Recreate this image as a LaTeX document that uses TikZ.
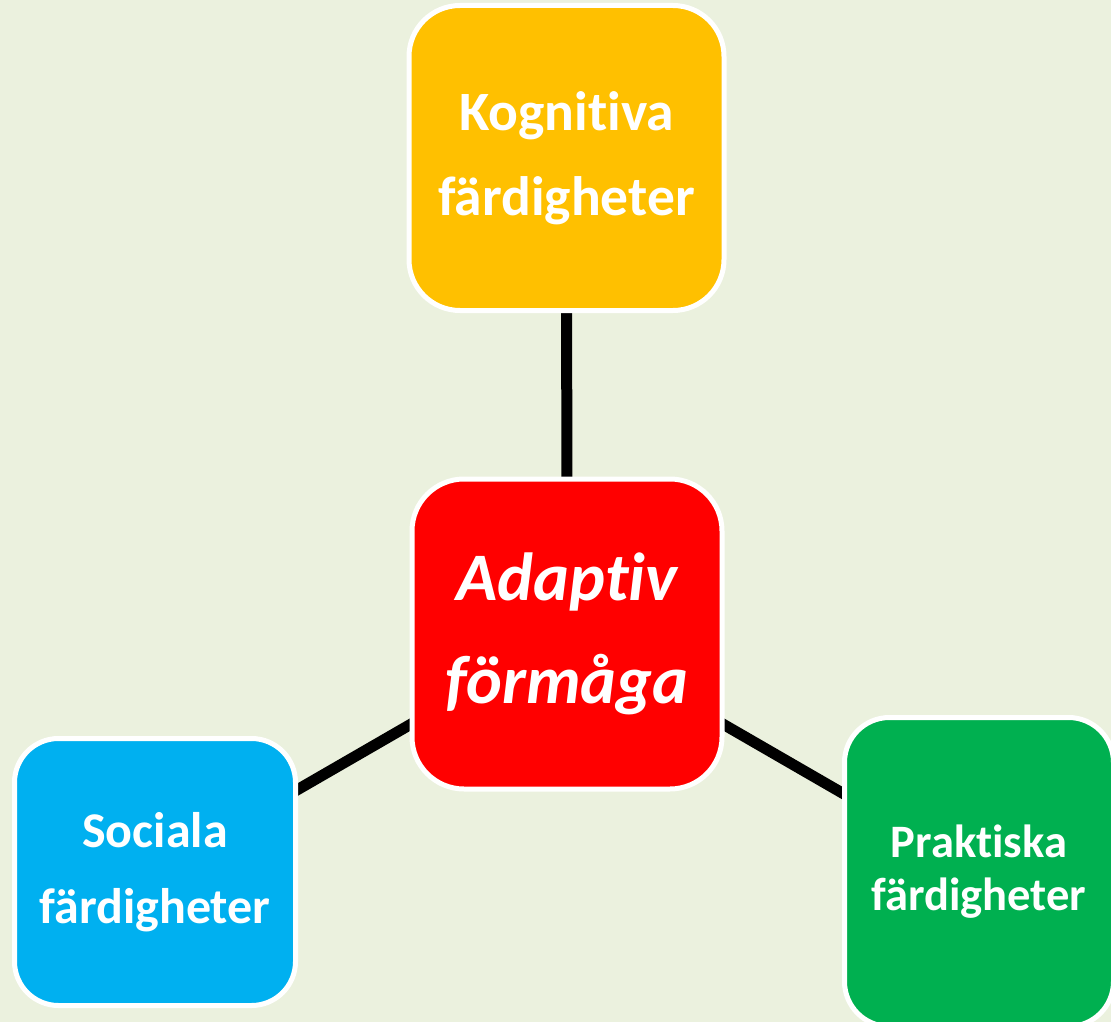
\documentclass[tikz,border=0pt]{standalone}
\usepackage{fontspec}
\setmainfont{Carlito}[RawFeature={-liga;-clig;-dlig},
  ItalicFeatures={RawFeature={-liga;-clig;-dlig}},
  BoldItalicFeatures={RawFeature={-liga;-clig;-dlig}}]
\usetikzlibrary{backgrounds}
\definecolor{bgcol}{HTML}{EBF1DE}
\definecolor{kogcol}{HTML}{FFC000}
\definecolor{adacol}{HTML}{FF0000}
\definecolor{soccol}{HTML}{00B0F0}
\definecolor{prakol}{HTML}{00B050}
\begin{document}
\begin{tikzpicture}[x=1pt,y=-1pt,
  box/.style={draw=white, line width=5pt, text=white, align=center, inner sep=0pt},
  link/.style={draw=black, line width=11pt}]
\useasboundingbox (0,0) rectangle (1111,1022);
\node[box, fill=kogcol, minimum width=315pt, minimum height=305pt, rounded corners=51pt,
  font=\bfseries\fontsize{55.5}{85}\selectfont] (kog) at (566.5,158) {Kognitiva\\färdigheter};
\node[box, fill=adacol, minimum width=310pt, minimum height=310pt, rounded corners=52pt,
  font=\bfseries\itshape\fontsize{68}{103}\selectfont] (ada) at (567,634) {Adapt\kern0pt iv\\förmåga};
\node[box, fill=soccol, minimum width=281pt, minimum height=267pt, rounded corners=44pt,
  font=\bfseries\fontsize{50}{76}\selectfont] (soc) at (155,872) {Sociala\\färdigheter};
\node[box, fill=prakol, minimum width=269pt, minimum height=309pt, rounded corners=45pt,
  font=\bfseries\fontsize{46.5}{53}\selectfont] (pra) at (979,872) {Praktiska\\färdigheter};
\begin{scope}[on background layer]
  \fill[bgcol] (0,0) rectangle (1111,1022);
  \draw[link] (ada.center) -- (kog.center);
  \draw[link] (ada.center) -- (soc.center);
  \draw[link] (ada.center) -- (pra.center);
\end{scope}
\end{tikzpicture}
\end{document}
